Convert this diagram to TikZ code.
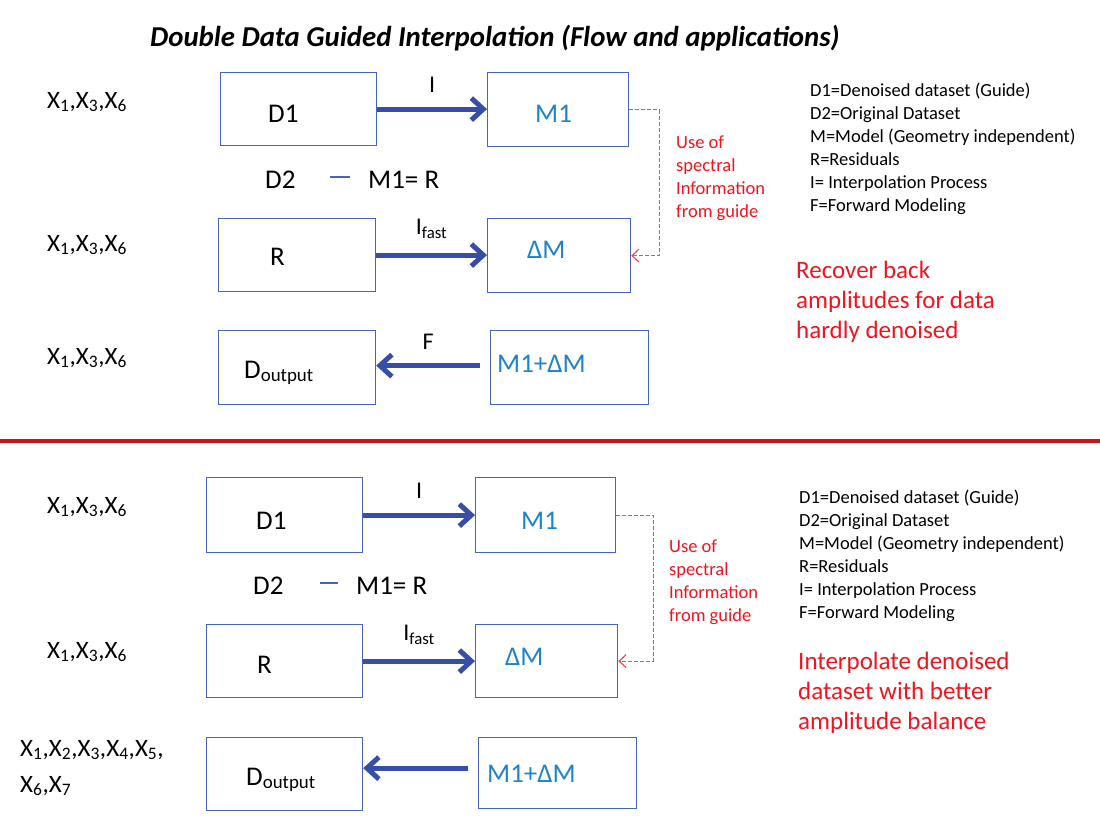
\documentclass[tikz,border=0pt]{standalone}
\usepackage{fontspec}
\setmainfont{Carlito}
\usetikzlibrary{arrows.meta}
\definecolor{boxblue}{RGB}{68,100,190}
\definecolor{arrowblue}{RGB}{55,78,168}
\definecolor{modelblue}{RGB}{30,130,205}
\definecolor{notered}{RGB}{240,20,30}
\definecolor{guidered}{RGB}{228,80,85}
\definecolor{splitred}{RGB}{200,20,30}
\begin{document}
\begin{tikzpicture}[x=1pt,y=-1pt,
  box/.style={draw=boxblue,line width=1.2pt,inner sep=0pt,anchor=north west},
  txt/.style={inner sep=0pt,anchor=base west,text=black,font=\fontsize{27}{32}\selectfont},
  mtxt/.style={txt,text=modelblue},
  xlab/.style={inner sep=0pt,anchor=base west,font=\fontsize{25}{30}\selectfont},
  lab/.style={inner sep=0pt,anchor=base west,text=black,font=\fontsize{24}{29}\selectfont},
  flow/.style={arrowblue,line width=5pt,-{Straight Barb[length=12pt,width=22pt]}},
  guide/.style={guidered,line width=1.2pt,dash pattern=on 4pt off 2pt,-{Straight Barb[length=7pt,width=13pt]}},
  legend/.style={inner sep=0pt,anchor=north west,align=left,font=\fontsize{18.5}{23}\selectfont},
  note/.style={legend,text=notered},
  bignote/.style={legend,text=notered,font=\fontsize{25}{30}\selectfont}]

\useasboundingbox (0,0) rectangle (1100,830);

\node[inner sep=0pt,anchor=base west,font=\fontsize{28.8}{34}\selectfont\bfseries\itshape] (title) at (150,46) {Double Data Guided Interpolation (Flow and applications)};

% upper flow
\node[box,minimum width=156pt,minimum height=73pt] (d1a) at (220,72) {};
\node[box,minimum width=141pt,minimum height=74pt] (m1a) at (487,72) {};
\node[box,minimum width=157pt,minimum height=73pt] (ra) at (218,218) {};
\node[box,minimum width=143pt,minimum height=74pt] (dma) at (487,218) {};
\node[box,minimum width=157pt,minimum height=74pt] (outa) at (218,330) {};
\node[box,minimum width=158pt,minimum height=74pt] (suma) at (490,330) {};

\node[txt] (td1a) at (268,122) {D1};
\node[mtxt] (tm1a) at (535,122) {M1};
\node[txt] (d2a) at (265,188) {D2};
\draw[boxblue,line width=1.2pt] (330,177) -- (350,177);
\node[txt] (resa) at (368,188) {M1= R};
\node[txt] (tra) at (270,265) {R};
\node[mtxt] (tdma) at (527,258) {ΔM};
\node[txt] (touta) at (244,378) {D\textsubscript{output}};
\node[mtxt] (tsuma) at (497,372) {M1+ΔM};

\node[xlab] (xa1) at (47,108) {X\textsubscript{1},X\textsubscript{3},X\textsubscript{6}};
\node[xlab] (xa2) at (47,251) {X\textsubscript{1},X\textsubscript{3},X\textsubscript{6}};
\node[xlab] (xa3) at (47,364) {X\textsubscript{1},X\textsubscript{3},X\textsubscript{6}};

\draw[flow] (d1a.east) -- (d1a.east -| m1a.west) node[lab,midway,above=14pt] (ia) {I};
\draw[flow] (ra.east) -- (ra.east -| dma.west) node[lab,midway,above=14pt] (ifa) {I\textsubscript{fast}};
\draw[flow] ([xshift=-10pt,yshift=2pt]suma.west) -- ([yshift=2pt]suma.west -| outa.east) node[lab,midway,above=14pt] (fa) {F};
\draw[guide] (m1a.east) -- ++(30,0) |- (dma.east);

\node[note] (usea) at (676,136) {Use of\\spectral\\Information\\from guide};
\node[legend] (keya) at (810,83) {D1=Denoised dataset (Guide)\\D2=Original Dataset\\M=Model (Geometry independent)\\R=Residuals\\I= Interpolation Process\\F=Forward Modeling};
\node[bignote] (goala) at (796,261) {Recover back\\amplitudes for data\\hardly denoised};

\draw[splitred,line width=4pt] (0,441) -- (1100,441);

% lower flow
\node[box,minimum width=156pt,minimum height=75pt] (d1b) at (206,477) {};
\node[box,minimum width=140pt,minimum height=75pt] (m1b) at (475,477) {};
\node[box,minimum width=156pt,minimum height=73pt] (rb) at (206,624) {};
\node[box,minimum width=142pt,minimum height=73pt] (dmb) at (475,624) {};
\node[box,minimum width=156pt,minimum height=73pt] (outb) at (206,737) {};
\node[box,minimum width=158pt,minimum height=71pt] (sumb) at (478,737) {};

\node[txt] (td1b) at (256,529) {D1};
\node[mtxt] (tm1b) at (521,529) {M1};
\node[txt] (d2b) at (253,594) {D2};
\draw[boxblue,line width=1.2pt] (320,583) -- (338,583);
\node[txt] (resb) at (356,594) {M1= R};
\node[txt] (trb) at (257,673) {R};
\node[mtxt] (tdmb) at (505,665) {ΔM};
\node[txt] (toutb) at (246,785) {D\textsubscript{output}};
\node[mtxt] (tsumb) at (487,782) {M1+ΔM};

\node[xlab] (xb1) at (47,513) {X\textsubscript{1},X\textsubscript{3},X\textsubscript{6}};
\node[xlab] (xb2) at (47,658) {X\textsubscript{1},X\textsubscript{3},X\textsubscript{6}};
\node[xlab] (xb3) at (20,756) {X\textsubscript{1},X\textsubscript{2},X\textsubscript{3},X\textsubscript{4},X\textsubscript{5},};
\node[xlab] (xb4) at (20,792) {X\textsubscript{6},X\textsubscript{7}};

\draw[flow] (d1b.east) -- (d1b.east -| m1b.west) node[lab,midway,above=14pt] (ib) {I};
\draw[flow] (rb.east) -- (rb.east -| dmb.west) node[lab,midway,above=14pt] (ifb) {I\textsubscript{fast}};
\draw[flow] ([xshift=-10pt,yshift=5pt]sumb.west) -- ([yshift=5pt]sumb.west -| outb.east);
\draw[guide] (m1b.east) -- ++(37,0) |- (dmb.east);

\node[note] (useb) at (669,540) {Use of\\spectral\\Information\\from guide};
\node[legend] (keyb) at (799,490) {D1=Denoised dataset (Guide)\\D2=Original Dataset\\M=Model (Geometry independent)\\R=Residuals\\I= Interpolation Process\\F=Forward Modeling};
\node[bignote] (goalb) at (798,652) {Interpolate denoised\\dataset with better\\amplitude balance};
\end{tikzpicture}
\end{document}
